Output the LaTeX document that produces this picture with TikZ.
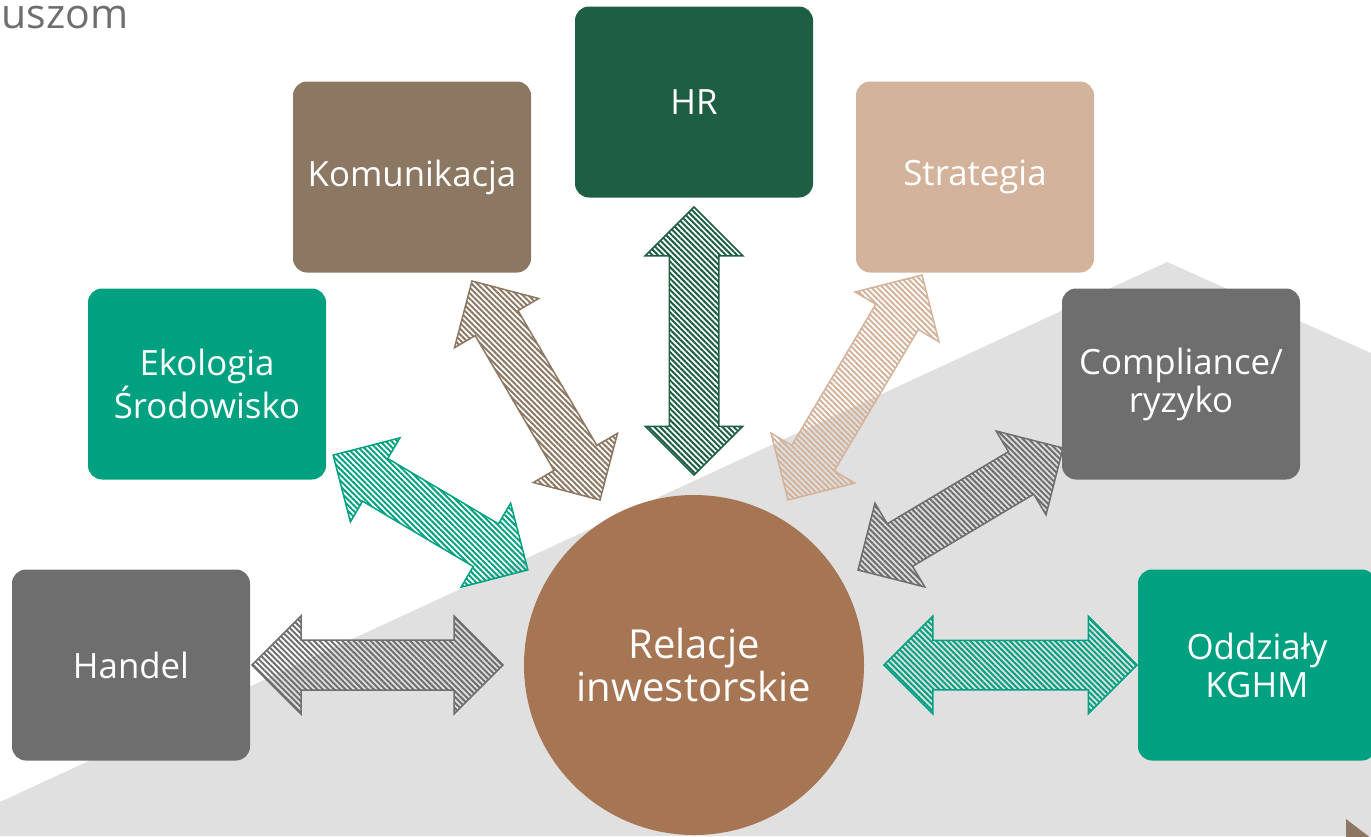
\documentclass[tikz,border=0pt]{standalone}
\usepackage{fontspec}
\setmainfont{Open Sans}
\usetikzlibrary{shapes.arrows,patterns.meta,calc}
\definecolor{kgray}{HTML}{6E6E6E}
\definecolor{kteal}{HTML}{00A181}
\definecolor{kbrown}{HTML}{8B7762}
\definecolor{kgreen}{HTML}{1E5E42}
\definecolor{ktan}{HTML}{D3B39B}
\definecolor{kcopper}{HTML}{A67553}
\definecolor{kback}{HTML}{E0E0E0}
\newcommand{\twoway}[3]{%
  \path let \p1=(#2), \p2=(#3), \n1={veclen(\x2-\x1,\y2-\y1)}, \n2={atan2(\y2-\y1,\x2-\x1)} in
    node[dblarrow=#1, minimum height=\n1, rotate=\n2] at ($(#2)!0.5!(#3)$) {};}
\begin{document}
\begin{tikzpicture}[x=0.5pt,y=-0.5pt,
  box/.style={fill=#1, rounded corners=7pt, minimum width=119pt, minimum height=95.5pt,
    text=white, align=center, font=\fontsize{17.4}{19}\selectfont},
  dblarrow/.style={double arrow, draw=#1, line width=0.75pt, inner xsep=0pt, inner ysep=12pt,
    double arrow head extend=12pt,
    pattern={Lines[angle=-45,distance=2pt,line width=1pt]}, pattern color=#1}]
\useasboundingbox (0,0) rectangle (1371,836);
\clip (0,0) rectangle (1371,836);
%%% background
\fill[kback] (1167,262) -- (1371,353) -- (1371,836) -- (0,836) -- (0,802) -- cycle;
\fill[kbrown] (1346,819) -- (1380,845) -- (1346,845) -- cycle;
\node[anchor=base west, inner sep=0pt, text height=1.05ex, text depth=0pt, text=kgray,
  font=\fontsize{20.5}{22}\selectfont] (title) at (1,28) {uszom};
%%% the units round the centre
\node[circle, fill=kcopper, minimum size=170pt, text=white, align=center,
  font=\fontsize{20}{21.5}\selectfont] (ri) at (694,665) {Relacje\\inwestorskie};
\node[box=kgray] (handel) at (131,665) {Handel};
\node[box=kteal] (eko) at (207,384) {Ekologia\\Środowisko};
\node[box=kbrown] (komu) at (412,177) {Komunikacja};
\node[box=kgreen] (hr) at (694,102) {HR};
\node[box=ktan] (strat) at (975,177) {Strategia};
\node[box=kgray] (compl) at (1181,384) {Compliance/\\ryzyko};
\node[box=kteal] (oddz) at (1257,665) {Oddziały\\KGHM};
%%% arrow ends
\coordinate (h1) at (252,665);  \coordinate (h2) at (503,665);
\coordinate (e1) at (333,455);  \coordinate (e2) at (528,570);
\coordinate (k1) at (472,281);  \coordinate (k2) at (600,500);
\coordinate (r1) at (694,207);  \coordinate (r2) at (694,475);
\coordinate (s1) at (922,275);  \coordinate (s2) at (788,500);
\coordinate (c1) at (1063,448); \coordinate (c2) at (858,570);
\coordinate (o1) at (884,665);  \coordinate (o2) at (1137,665);
\twoway{kgray}{h1}{h2}
\twoway{kteal}{e1}{e2}
\twoway{kbrown}{k1}{k2}
\twoway{kgreen}{r1}{r2}
\twoway{ktan}{s1}{s2}
\twoway{kgray}{c1}{c2}
\twoway{kteal}{o1}{o2}
\end{tikzpicture}
\end{document}
